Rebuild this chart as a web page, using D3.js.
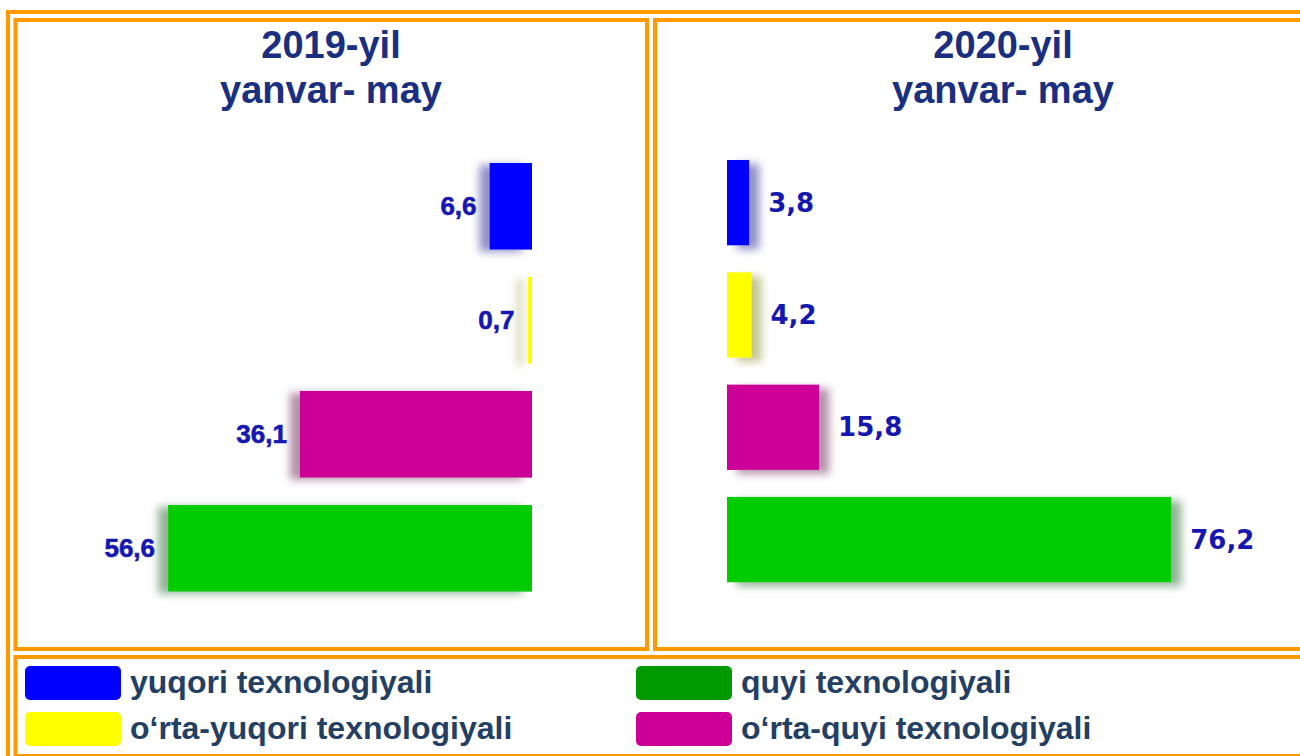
<!DOCTYPE html>
<html>
<head>
<meta charset="utf-8">
<script src="https://cdn.jsdelivr.net/npm/d3@7"></script>
<style>
  html, body { margin: 0; padding: 0; background: #ffffff; overflow: hidden; }
</style>
</head>
<body>
<div id="chart"></div>
<script>
// data
var categories = ["yuqori texnologiyali", "o‘rta-yuqori texnologiyali", "o‘rta-quyi texnologiyali", "quyi texnologiyali"];
var values2019 = [6.6, 0.7, 36.1, 56.6];
var values2020 = [3.8, 4.2, 15.8, 76.2];
var panelTitles = [["2019-yil", "yanvar- may"], ["2020-yil", "yanvar- may"]];
var legendOrder = ["yuqori texnologiyali", "o‘rta-yuqori texnologiyali", "quyi texnologiyali", "o‘rta-quyi texnologiyali"];

// styles
var barColors = ["#0000ff", "#ffff00", "#cc0099", "#00cc00"];
var legendColors = ["#0000ff", "#ffff00", "#009900", "#cc0099"];
var orange = "#ff9900",
    titleColor = "#1a2f80",
    valueColor = "#1616b0",
    legendText = "#243f62";

var width = 1300,
    height = 756;

var svg = d3.select("#chart").append("svg")
    .attr("width", width)
    .attr("height", height);

var uz = d3.formatLocale({decimal: ",", thousands: " ", grouping: [3], currency: ["", ""]});
var fmt = uz.format(".1f");

// shadows (left panel casts to the left, right panel to the right)
var defs = svg.append("defs");
function makeShadow(id, dx, dy) {
    var f = defs.append("filter")
        .attr("id", id)
        .attr("filterUnits", "userSpaceOnUse")
        .attr("x", 0).attr("y", 0)
        .attr("width", width).attr("height", height);
    f.append("feOffset").attr("in", "SourceGraphic").attr("dx", dx).attr("dy", dy).attr("result", "off");
    f.append("feGaussianBlur").attr("in", "off").attr("stdDeviation", 4).attr("result", "blur");
    f.append("feColorMatrix").attr("in", "blur").attr("type", "matrix")
        .attr("values", "0.3 0 0 0 0.2  0 0.3 0 0 0.2  0 0 0.3 0 0.22  0 0 0 0.85 0")
        .attr("result", "shadow");
    var m = f.append("feMerge");
    m.append("feMergeNode").attr("in", "shadow");
    m.append("feMergeNode").attr("in", "SourceGraphic");
}
makeShadow("shadowL", -10, 2);
makeShadow("shadowR", 10, 4);

// frames
var frames = svg.append("g").attr("id", "frames")
    .attr("fill", "none")
    .attr("stroke", orange)
    .attr("stroke-width", 4);
frames.append("rect").attr("x", 8).attr("y", 12).attr("width", 1320).attr("height", 780);
frames.append("rect").attr("x", 15.5).attr("y", 20).attr("width", 631.5).attr("height", 629);
frames.append("rect").attr("x", 655).attr("y", 20).attr("width", 700).attr("height", 629);
frames.append("rect").attr("x", 15.5).attr("y", 657).attr("width", 1320).attr("height", 99);

// titles
var titleX = [331, 1003];
panelTitles.forEach(function(t, i) {
    var g = svg.append("text")
        .attr("x", titleX[i])
        .attr("text-anchor", "middle")
        .attr("font-family", "Liberation Sans, Arial, sans-serif")
        .attr("font-weight", "bold")
        .attr("font-size", 38)
        .attr("fill", titleColor);
    g.append("tspan").attr("x", titleX[i]).attr("y", 58).text(t[0]);
    g.append("tspan").attr("x", titleX[i]).attr("y", 103).text(t[1]);
});

// left panel: bars grow to the left
var yL = d3.scaleBand()
    .domain(categories)
    .range([163, 163 + 114 * 3.76])
    .paddingInner(0.24)
    .paddingOuter(0);
var xL = d3.scaleLinear()
    .domain([0, 60])
    .range([532, 532 - 60 * 6.43]);

var left = svg.append("g").attr("id", "panel2019");
left.selectAll("rect")
    .data(values2019)
    .join("rect")
    .attr("x", function(d){ return xL(d); })
    .attr("y", function(d, i){ return yL(categories[i]); })
    .attr("width", function(d){ return xL(0) - xL(d); })
    .attr("height", yL.bandwidth())
    .attr("fill", function(d, i){ return barColors[i]; })
    .attr("filter", "url(#shadowL)");
left.selectAll("text")
    .data(values2019)
    .join("text")
    .attr("x", function(d){ return xL(d) - 13; })
    .attr("y", function(d, i){ return yL(categories[i]) + yL.bandwidth() / 2 + 9; })
    .attr("text-anchor", "end")
    .attr("font-family", "Liberation Sans, Arial, sans-serif")
    .attr("font-weight", "bold")
    .attr("font-size", 26)
    .attr("fill", valueColor)
    .attr("stroke", valueColor)
    .attr("stroke-width", 0.6)
    .text(function(d){ return fmt(d); });

// right panel: bars grow to the right
var yR = d3.scaleBand()
    .domain(categories)
    .range([160, 160 + 112.3 * 3.76])
    .paddingInner(0.24)
    .paddingOuter(0);
var xR = d3.scaleLinear()
    .domain([0, 80])
    .range([727, 727 + 80 * 5.83]);

var right = svg.append("g").attr("id", "panel2020");
right.selectAll("rect")
    .data(values2020)
    .join("rect")
    .attr("x", xR(0))
    .attr("y", function(d, i){ return yR(categories[i]); })
    .attr("width", function(d){ return xR(d) - xR(0); })
    .attr("height", yR.bandwidth())
    .attr("fill", function(d, i){ return barColors[i]; })
    .attr("filter", "url(#shadowR)");
right.selectAll("text")
    .data(values2020)
    .join("text")
    .attr("x", function(d){ return xR(d) + 19; })
    .attr("y", function(d, i){ return yR(categories[i]) + yR.bandwidth() / 2 + 9; })
    .attr("font-family", "DejaVu Sans, Verdana, sans-serif")
    .attr("font-weight", "bold")
    .attr("font-size", 26)
    .attr("fill", valueColor)
    .text(function(d){ return fmt(d); });

// legend, two columns
var legX = [25, 636],
    legY = [666, 712];
var legend = svg.append("g").attr("id", "legend");
legendOrder.forEach(function(name, i) {
    var col = Math.floor(i / 2), row = i % 2;
    legend.append("rect")
        .attr("x", legX[col])
        .attr("y", legY[row])
        .attr("width", 96)
        .attr("height", 34)
        .attr("rx", 5)
        .attr("fill", legendColors[i]);
    legend.append("text")
        .attr("x", legX[col] + 105)
        .attr("y", legY[row] + 27)
        .attr("font-family", "Liberation Sans, Arial, sans-serif")
        .attr("font-weight", "bold")
        .attr("font-size", 32)
        .attr("fill", legendText)
        .text(name);
});
</script>
</body>
</html>
